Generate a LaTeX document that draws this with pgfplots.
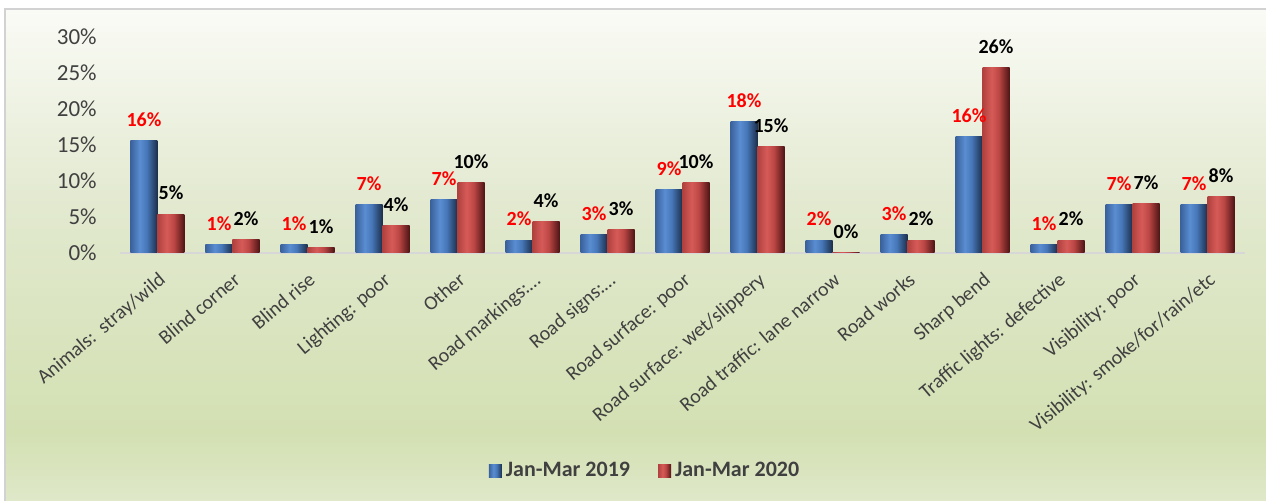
\documentclass[border=0pt]{standalone}
\usepackage{pgfplots}
\pgfplotsset{compat=1.18}
\usepackage{fontspec}
\setmainfont{Carlito}
\definecolor{tickc}{HTML}{404040}
\definecolor{bgtop}{RGB}{250,251,246}
\definecolor{bgmid}{RGB}{226,233,207}
\definecolor{bgdark}{RGB}{211,224,178}
\definecolor{bgbot}{RGB}{223,232,201}
\definecolor{axc}{RGB}{215,215,215}
\definecolor{frm}{RGB}{210,210,210}
\definecolor{Ba}{HTML}{3A629C}
\definecolor{Bb}{HTML}{5A8DD2}
\definecolor{Bc}{HTML}{4677B8}
\definecolor{Bd}{HTML}{1C2E4A}
\definecolor{Ra}{HTML}{B0413E}
\definecolor{Rb}{HTML}{D65B58}
\definecolor{Rc}{HTML}{BC4744}
\definecolor{Rd}{HTML}{4E1515}
\pgfdeclareverticalshading{bgsh}{100bp}{color(0bp)=(bgbot); color(25bp)=(bgbot); color(32bp)=(bgdark); color(55bp)=(bgmid); color(75bp)=(bgtop); color(100bp)=(bgtop)}
\pgfdeclarehorizontalshading{bluebar}{100bp}{color(0bp)=(Ba); color(25bp)=(Ba); color(42bp)=(Bb); color(55bp)=(Bc); color(75bp)=(Bd); color(100bp)=(Bd)}
\pgfdeclarehorizontalshading{redbar}{100bp}{color(0bp)=(Ra); color(25bp)=(Ra); color(42bp)=(Rb); color(55bp)=(Rc); color(75bp)=(Rd); color(100bp)=(Rd)}
\pgfplotsset{
  blueb/.style={draw=none, shading=bluebar, bar shift=-6.75pt, every node near coord/.append style={text=red}},
  redb/.style={draw=none, shading=redbar, bar shift=6.75pt, every node near coord/.append style={text=black}},
}
\newcommand{\bb}[2]{\addplot[blueb, forget plot] coordinates {(#1,#2)};}
\newcommand{\rb}[2]{\addplot[redb, forget plot] coordinates {(#1,#2)};}
\begin{document}
\begin{tikzpicture}
\path[shading=bgsh] (2.5pt,0pt) rectangle (633pt,246pt);
\draw[frm, line width=1pt] (2.5pt,0pt) -- (2.5pt,246pt) -- (633pt,246pt);
\begin{axis}[
  at={(60pt,124pt)}, anchor=south west,
  scale only axis, width=562.5pt, height=108pt,
  ybar=0pt, bar width=13.5pt,
  xmin=-0.5, xmax=14.5, ymin=0, ymax=30,
  axis x line*=bottom, axis y line*=left,
  x axis line style={axc, line width=1pt, -},
  y axis line style={draw=none},
  major tick length=0pt,
  ytick={0,5,10,15,20,25,30},
  yticklabels={0\%,5\%,10\%,15\%,20\%,25\%,30\%},
  yticklabel style={anchor=east, inner sep=0pt, text=tickc, font=\fontsize{11.5}{13}\selectfont},
  yticklabel shift=11.5pt,
  xtick={0,...,14},
  xticklabels={Animals:~~stray/wild, Blind corner, Blind rise, Lighting: poor, Other, Road markings:…, Road signs:…, Road surface: poor, Road surface: wet/slippery, Road traffic: lane narrow, Road works, Sharp bend, Traffic lights: defective, Visibility: poor, Visibility: smoke/for/rain/etc},
  xticklabel style={rotate=40, anchor=north east, inner sep=0pt, text=tickc, font=\fontsize{10}{12}\selectfont},
  xticklabel shift=9pt,
  /pgf/number format/assume math mode=true,
  nodes near coords={\pgfmathprintnumber[fixed,precision=0]{\pgfplotspointmeta}\%},
  every node near coord/.append style={font=\bfseries\fontsize{10}{12}\selectfont, anchor=center, yshift=10.5pt, inner sep=0pt},
  clip=false,
  legend columns=2,
  legend style={at={(0.4676,-1.009)}, anchor=center, draw=none, fill=none, text=tickc,
    font=\bfseries\fontsize{11}{13}\selectfont,
    /tikz/every even column/.append style={column sep=12pt},
    nodes={inner xsep=2pt}},
  legend image code/.code={\path[#1] (0pt,-3.25pt) rectangle (6.5pt,3.25pt);},
]
\addlegendimage{draw=none, shading=bluebar}
\addlegendentry{Jan-Mar 2019}
\addlegendimage{draw=none, shading=redbar}
\addlegendentry{Jan-Mar 2020}
\bb{0}{15.6}\rb{0}{5.4}
\bb{1}{1.2}\rb{1}{1.9}
\bb{2}{1.2}\rb{2}{0.8}
\bb{3}{6.7}\rb{3}{3.8}
\bb{4}{7.4}\rb{4}{9.8}
\bb{5}{1.8}\rb{5}{4.4}
\bb{6}{2.6}\rb{6}{3.3}
\bb{7}{8.75}\rb{7}{9.8}
\bb{8}{18.2}\rb{8}{14.8}
\bb{9}{1.8}\rb{9}{0.01}
\bb{10}{2.6}\rb{10}{1.8}
\bb{11}{16.2}\rb{11}{25.7}
\bb{12}{1.2}\rb{12}{1.8}
\bb{13}{6.7}\rb{13}{6.9}
\bb{14}{6.7}\rb{14}{7.8}
\end{axis}
\pgfresetboundingbox
\path[use as bounding box] (0pt,0pt) rectangle (633pt,250.5pt);
\end{tikzpicture}
\end{document}
